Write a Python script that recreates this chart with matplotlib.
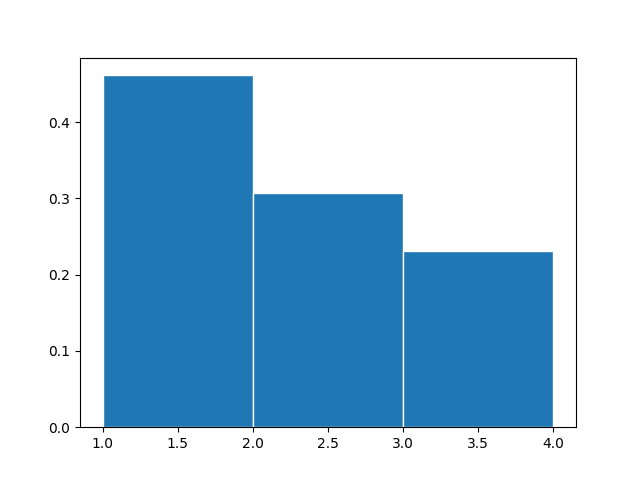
import matplotlib
matplotlib.use("Agg")
import matplotlib.pyplot as plt

bin_edges = [1.0, 2.0, 3.0, 4.0]
bin_lefts = [1.0, 2.0, 3.0]
densities = [0.4615, 0.3077, 0.2308]

fig, ax = plt.subplots(figsize=(6.4, 4.8), dpi=100)
ax.hist(bin_lefts, bins=bin_edges, weights=densities, color="#1f77b4", edgecolor="white")
fig.savefig("out.png", dpi=100)
